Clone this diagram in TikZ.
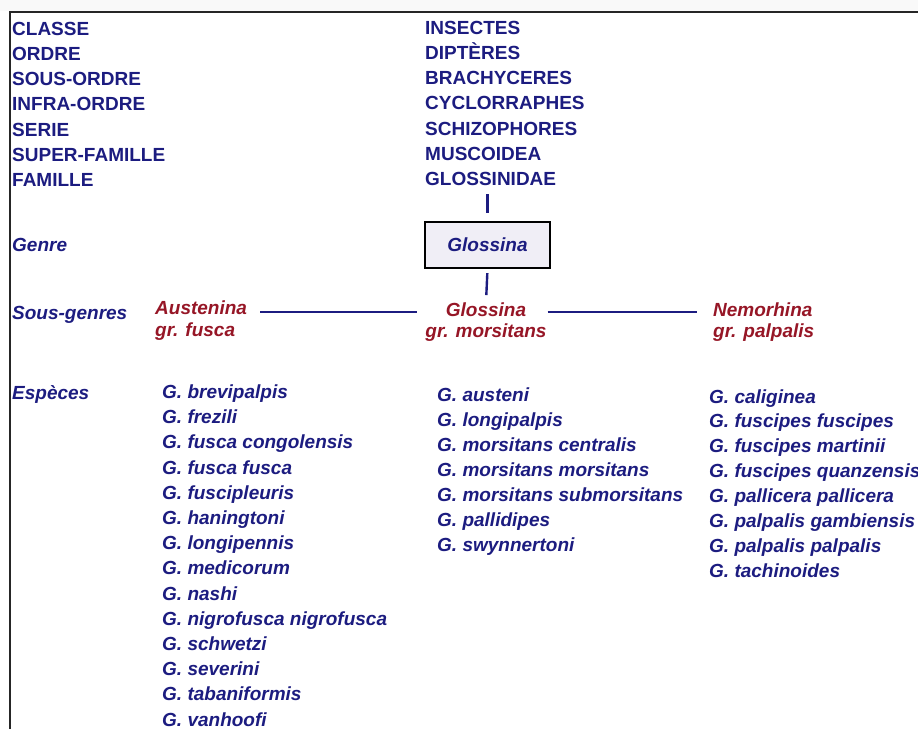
\documentclass[tikz,border=0pt]{standalone}
\usepackage{fontspec}
\setmainfont{Liberation Sans}
\usetikzlibrary{positioning}
\definecolor{rankblue}{RGB}{28,28,128}
\definecolor{taxred}{RGB}{150,22,38}
\definecolor{boxfill}{RGB}{240,238,246}
\tikzset{
  rank/.style   = {anchor=base west, inner sep=0pt, text=rankblue,
                   font=\fontsize{19}{23}\selectfont\bfseries},
  level/.style  = {rank, font=\fontsize{19}{23}\selectfont\bfseries\itshape},
  subg/.style   = {level, text=taxred},
  genbox/.style = {draw=black, line width=2.2pt, fill=boxfill, minimum width=125pt,
                   minimum height=46pt, inner sep=0pt, text=rankblue,
                   font=\fontsize{19}{23}\selectfont\bfseries\itshape},
  link/.style   = {draw=rankblue, line width=2.8pt},
}

\begin{document}
\begin{tikzpicture}[x=1pt, y=-1pt]
  \useasboundingbox (0,0) rectangle (918,729);

  % frame
  \fill[gray!5] (0,0) rectangle (918,11);
  \draw[line width=2.2pt, black!85] (10,729) -- (10,12) -- (918,12);

  % ranks and taxa
  \foreach \nm [count=\i from 0] in {CLASSE, ORDRE, SOUS-ORDRE, INFRA-ORDRE, SERIE, SUPER-FAMILLE, FAMILLE}
    \node[rank] (rk\i) at (12,{35+25.3*\i}) {\nm};
  \foreach \nm [count=\i from 0] in {INSECTES, DIPTÈRES, BRACHYCERES, CYCLORRAPHES, SCHIZOPHORES, MUSCOIDEA, GLOSSINIDAE}
    \node[rank] (tx\i) at (425,{34+25.3*\i}) {\nm};

  % genus
  \node[level] (genre) at (12,251) {Genre};
  \node[genbox] (genus) at (487.5,245) {Glossina};
  \draw[link, line width=2.4pt, shorten <=8pt, shorten >=8pt] (genus.north |- tx6.south) -- (genus.north);

  % sub-genera
  \node[level] (sousgenres) at (12,319) {Sous-genres};
  \node[subg] (austenina) at (155,314) {Austenina};
  \node[subg] (fusca) at (155,336) {gr. fusca};
  \node[subg, anchor=base] (glsub) at (486,316) {Glossina};
  \node[subg, anchor=base] (morsitans) at (486,337) {gr. morsitans};
  \node[subg] (nemorhina) at (713,316) {Nemorhina};
  \node[subg] (palpalis) at (713,337) {gr. palpalis};
  \coordinate (hl) at (0,312);
  \draw[link, line width=2.4pt, shorten <=4pt, shorten >=7pt] (genus.south) -- (glsub.north);
  \draw[link, shorten <=13pt, shorten >=8pt] (austenina.east |- hl) -- (morsitans.west |- hl);
  \draw[link, shorten <=1pt, shorten >=16pt] (morsitans.east |- hl) -- (nemorhina.west |- hl);

  % species
  \node[level] (especes) at (12,399) {Espèces};
  \foreach \nm [count=\i from 0] in {brevipalpis, frezili, fusca congolensis, fusca fusca, fuscipleuris,
      haningtoni, longipennis, medicorum, nashi, nigrofusca nigrofusca, schwetzi, severini,
      tabaniformis, vanhoofi}
    \node[level] (fu\i) at (162,{398.5+25.2*\i}) {G. \nm};
  \foreach \nm [count=\i from 0] in {austeni, longipalpis, morsitans centralis, morsitans morsitans,
      morsitans submorsitans, pallidipes, swynnertoni}
    \node[level] (mo\i) at (437,{401+25.1*\i}) {G. \nm};
  \foreach \nm [count=\i from 0] in {caliginea, fuscipes fuscipes, fuscipes martinii, fuscipes quanzensis,
      pallicera pallicera, palpalis gambiensis, palpalis palpalis, tachinoides}
    \node[level] (pa\i) at (709,{403+24.9*\i}) {G. \nm};

\end{tikzpicture}
\end{document}
